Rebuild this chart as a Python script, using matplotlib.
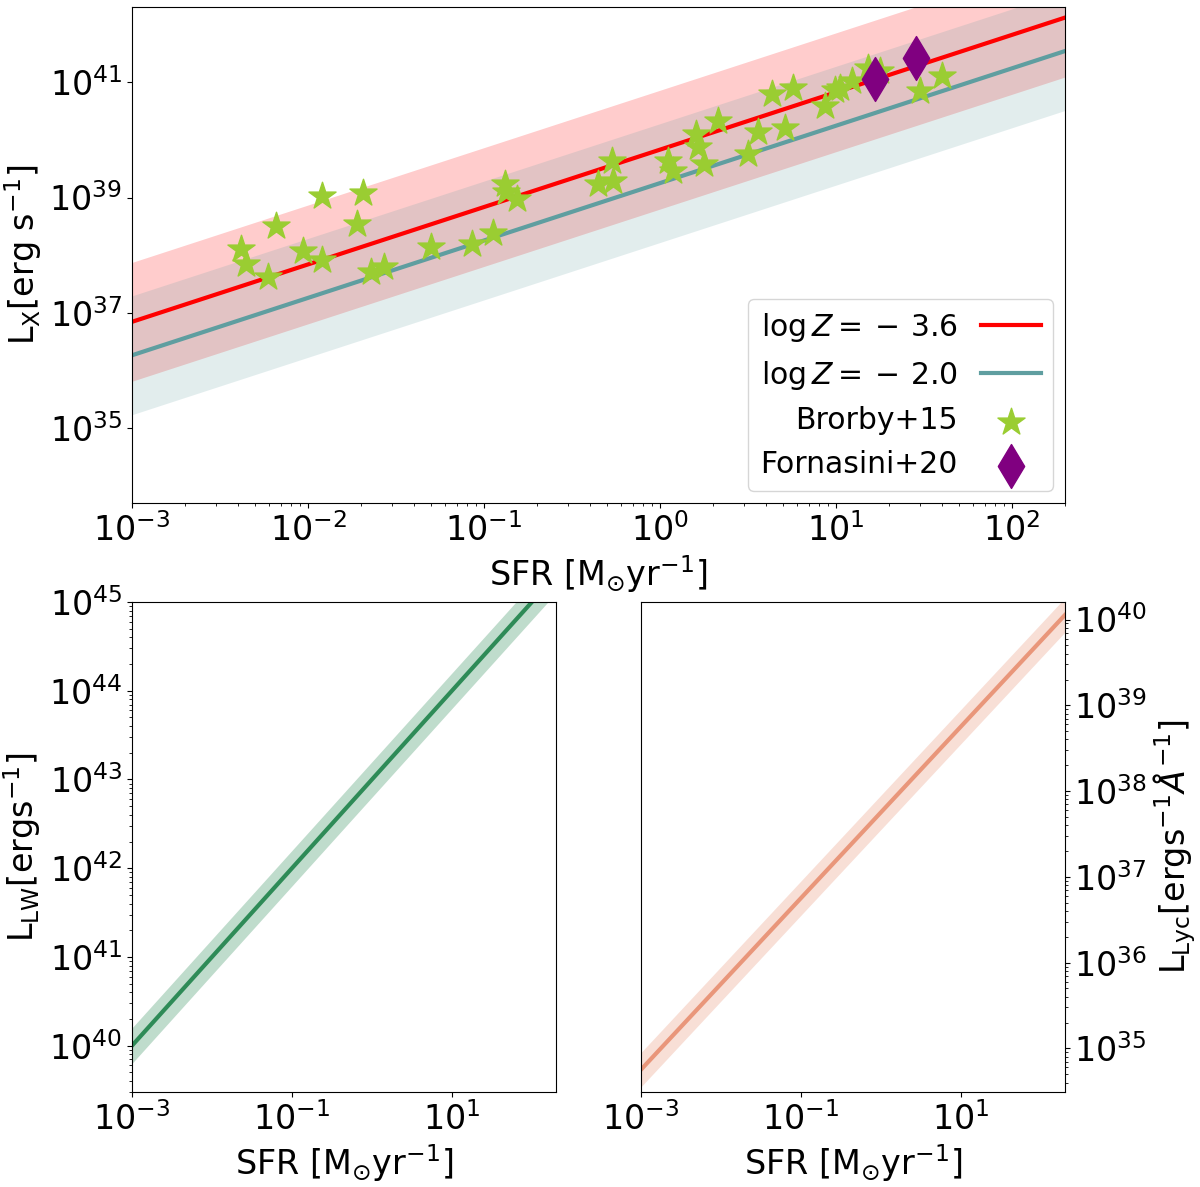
import numpy as np
import matplotlib.pyplot as plt

# Brorby+15 sample (log SFR, log L_X)
brorby_logsfr = [-2.38, -2.35, -2.23, -2.18, -1.92, -2.03, -1.92, -1.69, -1.72, -1.64,
                 -1.57, -1.30, -1.07, -0.95, -0.88, -0.875, -0.81, -0.35, -0.265, -0.274,
                 0.047, 0.076, 0.205, 0.214, 0.252, 0.331, 0.502, 0.559, 0.710, 0.635,
                 0.757, 0.938, 0.994, 1.023, 1.089, 1.183, 1.25, 1.477, 1.601]
brorby_loglx = [38.11, 37.85, 37.62, 38.50, 39.02, 38.08, 37.92, 39.07, 38.54, 37.71,
                37.79, 38.14, 38.20, 38.38, 39.23, 39.10, 38.97, 39.23, 39.29, 39.64,
                39.64, 39.46, 40.10, 39.88, 39.58, 40.33, 39.75, 40.13, 40.21, 40.79,
                40.90, 40.59, 40.87, 40.90, 41.02, 41.25, 41.19, 40.84, 41.10]

# Fornasini+20
forn_logsfr = [1.222, 1.453]
forn_loglx = [41.06, 41.42]

# L_X - SFR relations: log L = norm + slope * log SFR, scatter in dex
lx_norm = {'3.6': 39.83, '2.0': 39.25}
lx_slope = 0.995
lx_scatter = 1.03

lw_norm, lw_scatter = 43.0, 0.2
lyc_norm, lyc_scatter = 37.75, 0.2

sfr = np.logspace(-3, np.log10(200), 200)

plt.rcParams['font.size'] = 24
fig = plt.figure(figsize=(12, 11.87), dpi=100)

# top panel: X-ray luminosity
ax = fig.add_axes([0.11, 0.576, 0.7775, 0.418])
for key, col, a in [('3.6', 'red', 0.2), ('2.0', 'cadetblue', 0.18)]:
    lx = 10 ** (lx_norm[key] + lx_slope * np.log10(sfr))
    ax.fill_between(sfr, lx / 10 ** lx_scatter, lx * 10 ** lx_scatter, color=col, alpha=a, lw=0)
    ax.plot(sfr, lx, color=col, lw=3, label=r'$\log Z = {}-\,%s$' % key)
ax.scatter(10 ** np.array(brorby_logsfr), 10 ** np.array(brorby_loglx), marker='*', s=420,
           color='yellowgreen', label='Brorby+15', zorder=3)
ax.scatter(10 ** np.array(forn_logsfr), 10 ** np.array(forn_loglx), marker='d', s=500,
           color='purple', label='Fornasini+20', zorder=4)
ax.set_xscale('log')
ax.set_yscale('log')
ax.set_xlim(1e-3, 200)
ax.set_ylim(5e33, 2e42)
ax.set_yticks([1e35, 1e37, 1e39, 1e41])
ax.set_xlabel(r'SFR [M$_{\odot}$yr$^{-1}$]')
ax.set_ylabel(r'L$_{\rm X}$[erg s$^{-1}$]')
ax.legend(loc='lower right', markerfirst=False, fontsize=21.5, borderaxespad=0.4)

# bottom left: Lyman-Werner
ax1 = fig.add_axes([0.11, 0.080, 0.3533, 0.4128])
llw = 10 ** (lw_norm + np.log10(sfr))
ax1.fill_between(sfr, llw / 10 ** lw_scatter, llw * 10 ** lw_scatter, color='seagreen', alpha=0.3, lw=0)
ax1.plot(sfr, llw, color='seagreen', lw=3)
ax1.set_xscale('log')
ax1.set_yscale('log')
ax1.set_xlim(1e-3, 200)
ax1.set_ylim(3e39, 1e45)
ax1.set_xlabel(r'SFR [M$_{\odot}$yr$^{-1}$]')
ax1.set_ylabel(r'L$_{\rm LW}$[ergs$^{-1}$]')

# bottom right: Lyman continuum
ax2 = fig.add_axes([0.534, 0.080, 0.3533, 0.4128])
llyc = 10 ** (lyc_norm + np.log10(sfr))
ax2.fill_between(sfr, llyc / 10 ** lyc_scatter, llyc * 10 ** lyc_scatter, color='darksalmon', alpha=0.3, lw=0)
ax2.plot(sfr, llyc, color='darksalmon', lw=3)
ax2.set_xscale('log')
ax2.set_yscale('log')
ax2.set_xlim(1e-3, 200)
ax2.set_ylim(3.1e34, 1.6e40)
ax2.yaxis.tick_right()
ax2.yaxis.set_label_position('right')
ax2.set_xlabel(r'SFR [M$_{\odot}$yr$^{-1}$]')
ax2.set_ylabel(r'L$_{\rm Lyc}$[ergs$^{-1}\AA^{-1}$]', labelpad=3)

fig.savefig('out.png', dpi=100)
